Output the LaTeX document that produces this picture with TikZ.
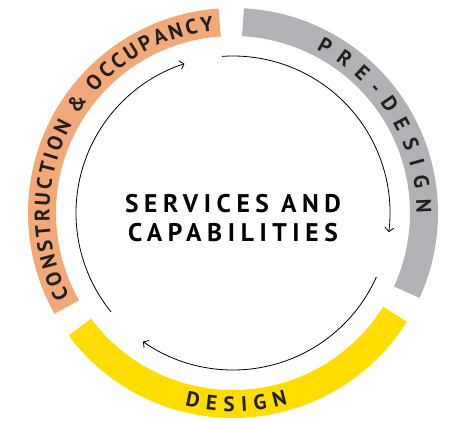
\documentclass[tikz,border=0pt]{standalone}
\usepackage{fontspec}
\setmainfont{PT Sans}
\newfontfamily\titlefont[LetterSpace=22]{PT Sans}
\usetikzlibrary{decorations.text,arrows.meta}
\definecolor{occupancy}{RGB}{242,169,122}
\definecolor{predesign}{RGB}{177,178,182}
\definecolor{designband}{RGB}{255,221,0}
\definecolor{ink}{RGB}{35,31,32}
\begin{document}
\begin{tikzpicture}[x=1pt,y=1pt,
  band/.style={line width=28pt},
  flow/.style={line width=0.8pt,-{Straight Barb[length=4pt,width=9pt]}},
  bandtext/.style={decorate,decoration={text along path,text align={fit to path},text={#1}}}]
\useasboundingbox (-233,-208) rectangle (228,213);
\newcommand\bandfont{\color{ink}\bfseries\fontsize{21}{21}\selectfont}
% outer ring
\path[draw,band,occupancy] (94:191) arc[start angle=94,end angle=209.5,radius=191pt];
\path[draw,band,designband] (216.7:191) arc[start angle=216.7,end angle=328,radius=191pt];
\path[draw,band,predesign] (-24.5:191) arc[start angle=-24.5,end angle=87,radius=191pt];
% ring labels
\path[bandtext={|\bandfont|CONSTRUCTION {\&} OCCUPANCY}] (207:183.6) arc[start angle=207,end angle=96,radius=183.6pt];
\path[bandtext={|\bandfont|PRE-DESIGN}] (63:183.6) arc[start angle=63,end angle=0,radius=183.6pt];
\path[bandtext={|\bandfont|DESIGN}] (256:198.4) arc[start angle=256,end angle=286,radius=198.4pt];
% inner cycle
\path[draw,flow] (94:157) arc[start angle=94,end angle=-7,radius=157pt];
\path[draw,flow] (-24:157) arc[start angle=-24,end angle=-125,radius=157pt];
\path[draw,flow] (219:157) arc[start angle=219,end angle=108,radius=157pt];
\node[font=\titlefont\bfseries\fontsize{25.5}{29}\selectfont,align=center] (title) at (0,-5.5) {SERVICES AND\\CAPABILITIES};
\end{tikzpicture}
\end{document}
